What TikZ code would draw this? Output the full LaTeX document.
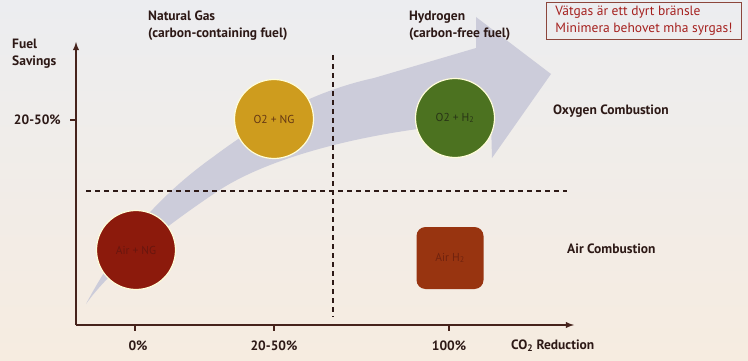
\documentclass[tikz,border=0pt]{standalone}
\usepackage{fontspec}
\setmainfont{PT Sans}
\definecolor{ink}{RGB}{45,25,22}
\definecolor{axisc}{RGB}{70,35,28}
\definecolor{bgtop}{RGB}{236,237,240}
\definecolor{bgbot}{RGB}{246,236,224}
\definecolor{bandc}{RGB}{204,204,218}
\definecolor{airngc}{RGB}{140,26,12}
\definecolor{airngt}{RGB}{105,22,14}
\definecolor{o2ngc}{RGB}{206,156,30}
\definecolor{o2ngt}{RGB}{100,55,20}
\definecolor{o2hc}{RGB}{76,114,32}
\definecolor{o2ht}{RGB}{40,52,22}
\definecolor{airhc}{RGB}{152,52,16}
\definecolor{airht}{RGB}{112,34,14}
\definecolor{notec}{RGB}{165,32,30}
\definecolor{noteframe}{RGB}{140,70,60}

\begin{document}
\begin{tikzpicture}[x=1pt,y=-1pt]
\tikzstyle{lbl}=[font=\fontsize{13.5}{17}\selectfont\bfseries, text=ink, align=left, inner sep=0pt]
\tikzstyle{ticklbl}=[font=\fontsize{13.5}{17}\selectfont\bfseries, text=ink, inner sep=0pt]
\tikzstyle{fuel}=[circle, minimum size=79pt, inner sep=0pt, draw=white!85!yellow, line width=1.2pt, font=\fontsize{11.5}{13}\selectfont]
\tikzstyle{guide}=[dash pattern=on 5pt off 4pt, line width=1.1pt, draw=ink]
\tikzstyle{axis}=[line width=1.8pt, draw=axisc, -latex]
\tikzstyle{tickmark}=[line width=1.6pt, draw=axisc]
\useasboundingbox (0,0) rectangle (748,361);
\fill[top color=bgtop, bottom color=bgbot] (0,0) rectangle (748,361);
\fill[bandc] (86,304) .. controls (120,240) and (160,195) .. (213,157) .. controls (260,122) and (310,92) .. (374,78) -- (476,48) -- (476,17) -- (551,74) -- (492,158) -- (491,122) .. controls (380,128) and (270,155) .. (215,193) .. controls (160,230) and (110,270) .. cycle;
\coordinate (o) at (76,325);
\coordinate (ytop) at (76,42);
\coordinate (xend) at (574,325);
\draw[axis] (o) -- (ytop);
\draw[axis] (o) -- (xend);
\draw[tickmark] (70,120) -- (76,120);
\foreach \x in {135,274,449} \draw[tickmark] (\x,325) -- (\x,331);
\draw[guide] (333,55) -- (333,317);
\draw[guide] (86,191) -- (567,191);
\node[lbl, anchor=west] (savings) at (12,54) {Fuel\\Savings};
\node[lbl, anchor=west] (natgas) at (148,26) {Natural Gas\\(carbon-containing fuel)};
\node[lbl, anchor=west] (hydrogen) at (409,26) {Hydrogen\\(carbon-free fuel)};
\node[draw=noteframe, line width=0.8pt, text=notec, align=left, inner xsep=6pt, inner ysep=4pt, font=\fontsize{13.5}{17}\selectfont, anchor=north west, minimum width=195pt] (note) at (546,2) {Vätgas är ett dyrt bränsle\\Minimera behovet mha syrgas!};
\node[lbl, anchor=west] (oxycomb) at (553,111) {Oxygen Combustion};
\node[lbl, anchor=west] (aircomb) at (567,249) {Air Combustion};
\node[ticklbl, anchor=east] (ylbl) at (61,120) {20-50\%};
\node[ticklbl] (x0) at (138,346) {0\%};
\node[ticklbl] (x1) at (274,346) {20-50\%};
\node[ticklbl] (x2) at (449,346) {100\%};
\node[ticklbl, anchor=west] (xlbl) at (511,346) {CO\textsubscript{2} Reduction};
\node[fuel, fill=airngc, text=airngt] (airng) at (136,250) {Air + NG};
\node[fuel, fill=o2ngc, text=o2ngt] (o2ng) at (274,119) {O2 + NG};
\node[fuel, fill=o2hc, text=o2ht] (o2h) at (455,118) {O2 + H\textsubscript{2}};
\node[rectangle, rounded corners=9pt, minimum width=67pt, minimum height=62pt, fill=airhc, text=airht, font=\fontsize{11.5}{13}\selectfont] (airh) at (450,258) {Air H\textsubscript{2}};
\end{tikzpicture}
\end{document}
